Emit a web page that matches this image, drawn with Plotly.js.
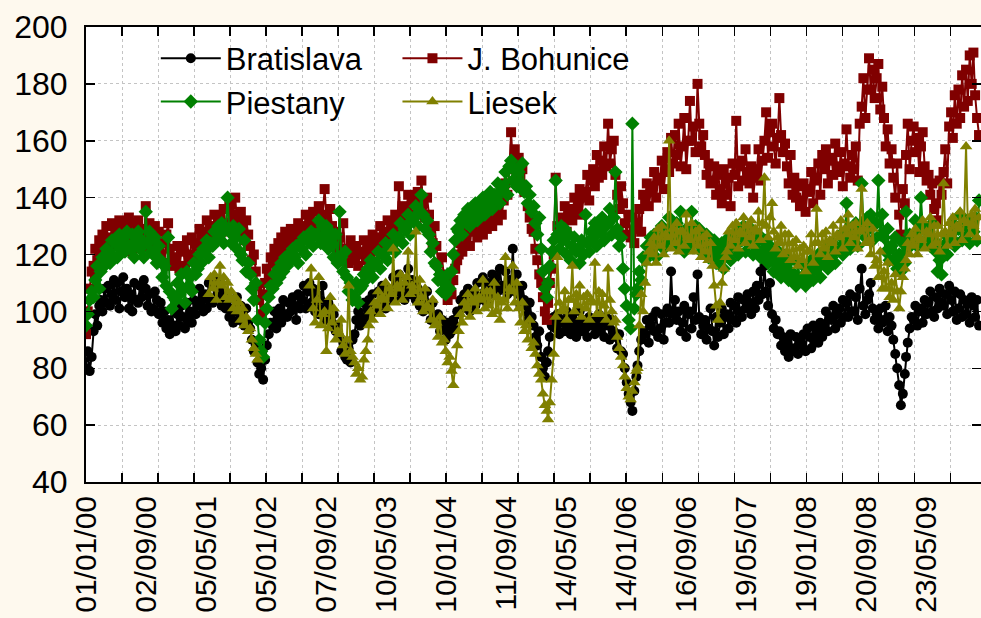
<!DOCTYPE html>
<html>
<head>
<meta charset="utf-8">
<script src="https://cdn.plot.ly/plotly-3.0.1.min.js"></script>
<style>html,body{margin:0;padding:0;background:#fef9ee;}#chart{width:981px;height:618px;}</style>
</head>
<body>
<div id="chart"></div>
<script>
// Sampling dates: 1st, 8th, 16th and 24th of each month, Jan 2000 - Dec 2009
const sampleDays = [1, 8, 16, 24];
const firstYear = 2000, lastYear = 2009;

const tickDates = ['2000-01-01','2000-09-02','2001-05-05','2002-01-05','2002-09-07','2003-05-10','2004-01-10','2004-09-11','2005-05-14','2006-01-14','2006-09-16','2007-05-19','2008-01-19','2008-09-20','2009-05-23'];
const tickLabels = ['01/01/00','02/09/00','05/05/01','05/01/02','07/09/02','10/05/03','10/01/04','11/09/04','14/05/05','14/01/06','16/09/06','19/05/07','19/01/08','20/09/08','23/05/09'];

const seriesNames = ['Bratislava', 'J. Bohunice', 'Piestany', 'Liesek'];

const bratislava = [
// 2000
80,86,79,84, 93,99,95,102, 104,100,108,103, 109,102,106,111, 104,110,101,107, 112,105,108,101, 106,100,110,104, 103,109,105,111, 108,102,106,100, 101,107,104,99, 103,96,100,94, 97,92,101,95,
// 2001
93,99,95,102, 98,94,103,96, 100,96,104,99, 102,108,104,100, 106,101,110,104, 103,109,105,111, 107,102,105,101, 104,98,101,96, 100,105,97,102, 99,95,101,96, 94,90,86,88, 82,78,80,76,
// 2002
83,88,92,96, 95,100,94,98, 101,96,104,99, 98,103,100,105, 102,97,106,101, 104,109,101,107, 110,103,108,100, 106,99,104,109, 101,97,103,98, 96,99,93,95, 91,86,89,84, 83,87,82,90,
// 2003
92,97,100,95, 98,103,97,101, 104,99,106,102, 100,107,103,109, 105,101,108,104, 107,112,105,110, 113,106,109,104, 108,115,106,111, 110,104,108,102, 105,100,103,107, 101,97,103,98, 96,99,93,97,
// 2004
94,90,96,92, 93,97,95,100, 99,104,101,106, 103,108,100,105, 107,102,110,104, 105,112,107,103, 110,106,113,108, 112,107,115,109, 108,114,106,111, 110,122,107,113, 106,102,109,104, 100,97,103,98,
// 2005
95,91,88,93, 84,80,77,82, 86,91,95,98, 94,99,92,96, 97,93,100,95, 92,98,94,91, 96,100,93,97, 94,91,98,95, 97,92,95,99, 93,96,91,98, 95,90,97,93, 91,87,92,86,
// 2006
85,80,75,71, 68,65,72,77, 81,86,90,93, 92,97,89,95, 98,93,100,91, 94,99,90,96, 101,96,114,99, 104,97,100,93, 96,102,91,99, 100,94,105,97, 113,98,92,95, 97,90,94,101,
// 2007
93,88,98,91, 96,101,92,98, 99,94,103,97, 102,96,105,100, 98,104,101,106, 103,99,107,101, 109,104,114,106, 116,107,102,110, 99,94,97,92, 93,88,91,86, 89,84,92,86, 87,91,85,89,
// 2008
88,92,86,94, 91,87,95,89, 93,89,96,91, 95,100,93,98, 97,102,94,99, 101,96,104,98, 103,98,106,100, 100,105,97,108, 115,102,99,104, 106,110,101,97, 99,94,101,96, 97,102,93,98,
// 2009
95,90,85,80, 74,67,71,78, 84,89,94,98, 97,102,95,100, 101,96,104,99, 103,107,100,98, 105,101,108,103, 102,106,99,109, 104,100,107,97, 101,106,98,104, 99,103,96,105, 102,98,104,95
];

const bohunice = [
// 2000
92,100,108,114, 116,122,118,125, 121,127,124,130, 126,122,131,125, 129,124,132,127, 123,130,126,133, 128,121,131,125, 132,126,129,123, 137,127,131,124, 125,130,122,128, 120,124,117,127, 131,122,116,119,
// 2001
118,123,115,121, 122,116,125,119, 120,126,118,124, 123,129,126,121, 128,132,125,130, 126,134,129,131, 133,128,136,130, 131,137,129,134, 140,132,127,135, 129,125,132,127, 123,118,120,114, 109,104,99,106,
// 2002
110,115,112,119, 117,122,119,124, 121,126,123,128, 125,122,129,126, 128,124,131,127, 130,126,134,129, 132,128,135,130, 131,137,128,134, 143,133,129,136, 130,125,128,122, 126,121,131,119, 122,117,125,120,
// 2003
118,123,116,121, 120,125,118,123, 124,120,127,122, 126,122,130,125, 128,124,132,127, 131,127,134,129, 144,131,137,133, 136,141,132,138, 139,134,142,136, 146,138,133,140, 134,128,124,130, 123,117,113,119,
// 2004
112,108,104,110, 106,111,115,118, 120,124,121,127, 125,129,123,131, 128,133,126,130, 131,127,135,129, 133,137,130,135, 136,132,140,134, 139,145,141,150, 163,152,157,149, 154,147,150,142, 143,137,133,129,
// 2005
128,122,118,113, 110,105,100,97, 103,110,115,120, 147,130,126,133, 131,137,128,134, 136,132,140,135, 138,143,134,140, 142,148,139,146, 150,144,155,147, 153,148,158,151, 166,152,157,160, 148,141,136,144,
// 2006
138,131,127,134, 126,133,124,129, 131,136,128,141, 139,145,137,142, 144,149,140,146, 147,153,143,150, 156,149,161,152, 162,155,166,151, 158,168,150,160, 174,160,165,156, 180,166,158,162, 155,148,152,145,
// 2007
146,151,141,148, 143,138,150,145, 141,147,137,152, 148,167,144,151, 153,146,157,149, 145,151,140,147, 150,157,146,153, 160,170,154,163, 166,158,152,161, 175,162,156,159, 151,145,155,141, 147,140,144,137,
// 2008
139,145,135,142, 143,149,138,146, 147,152,141,155, 150,157,145,153, 154,148,159,151, 149,156,144,152, 164,151,147,155, 150,158,146,166, 172,182,168,178, 189,178,185,175, 182,187,171,179, 168,158,164,152,
// 2009
157,147,140,152, 134,127,143,138, 155,166,150,160, 165,156,161,149, 158,163,151,146, 148,141,145,136, 138,132,146,141, 149,157,145,165, 170,161,176,166, 178,168,183,172, 185,174,190,180, 191,176,168,162
];

const piestany = [
// 2000
95,99,104,107, 105,111,116,108, 114,119,116,122, 121,117,125,119, 124,119,127,122, 126,121,128,123, 122,127,119,125, 128,122,125,119, 135,124,128,121, 120,126,117,123, 118,112,116,109, 126,107,101,105,
// 2001
104,110,106,113, 108,103,114,109, 112,107,117,113, 115,120,117,122, 121,125,119,124, 123,128,125,130, 127,131,124,129, 140,128,124,130, 126,122,129,120, 118,125,114,117, 113,108,104,110, 97,90,86,84,
// 2002
96,101,105,109, 108,113,110,115, 112,117,114,119, 116,120,118,122, 119,123,117,124, 122,126,120,125, 125,128,123,127, 127,132,124,130, 126,130,122,128, 124,119,127,117, 135,119,114,121, 112,107,110,104,
// 2003
105,110,103,108, 109,113,111,115, 114,118,112,117, 117,121,115,120, 120,124,118,123, 123,127,121,125, 126,131,124,129, 130,134,127,132, 133,137,130,135, 141,134,129,132, 127,121,124,117, 116,111,113,107,
// 2004
110,106,113,108, 114,120,125,129, 128,132,127,134, 131,136,130,134, 134,138,132,137, 136,140,134,139, 138,142,136,141, 140,145,138,143, 144,149,141,151, 153,146,150,144, 149,145,152,142, 144,138,141,135,
// 2005
137,131,127,133, 122,114,108,105, 110,116,121,125, 146,127,122,130, 125,129,120,127, 118,123,126,121, 122,117,125,120, 134,124,121,128, 126,131,123,129, 128,133,125,130, 131,136,127,133, 149,129,123,126,
// 2006
115,108,102,97, 94,166,101,106, 108,114,111,119, 118,123,120,126, 122,127,119,125, 125,130,122,128, 127,133,124,130, 126,131,123,135, 125,121,129,123, 127,135,124,130, 124,129,121,126, 122,127,119,124,
// 2007
120,125,117,122, 119,124,115,121, 121,126,118,123, 123,128,120,126, 125,130,121,127, 124,129,120,126, 122,127,119,125, 121,125,117,123, 119,114,122,116, 117,112,120,114, 115,111,118,113, 113,109,117,111,
// 2008
112,116,109,114, 113,118,111,116, 115,120,112,118, 117,122,115,120, 119,124,117,122, 122,127,120,125, 138,125,122,128, 126,131,123,129, 145,131,126,133, 129,134,125,131, 131,146,127,134, 126,121,129,118,
// 2009
123,118,126,115, 120,114,124,117, 135,122,127,124, 126,132,123,129, 140,130,125,128, 128,123,131,125, 121,114,118,113, 123,127,120,125, 126,131,123,129, 129,134,125,131, 127,132,124,130, 128,133,125,139
];

const liesek = [
// 2000 (no data)
null,null,null,null, null,null,null,null, null,null,null,null, null,null,null,null, null,null,null,null, null,null,null,null, null,null,null,null, null,null,null,null, null,null,null,null, null,null,null,null, null,null,null,null, null,null,null,null,
// 2001
null,null,null,null, null,null,null,null, null,null,null,null, null,null,null,null, null,null,106,112, 108,113,104,110, 116,109,112,105, 110,104,107,101, 105,100,103,97, 101,95,98,93, 94,90,87,85, 83,null,null,null,
// 2002
null,null,null,null, null,null,null,null, null,null,null,null, null,null,null,null, null,null,null,null, null,null,null,null, 109,115,101,96, 104,112,95,99, 100,86,94,105, 96,101,90,93, 92,97,88,85, 90,109,86,84,
// 2003
82,78,80,76, 77,83,86,90, 95,100,97,103, 102,107,99,105, 104,110,101,108, 106,122,103,109, 108,113,104,110, 112,121,106,109, 107,128,103,111, 105,100,108,102, 101,97,104,95, 96,91,98,89,
// 2004
90,86,82,84, 79,74,81,88, 93,99,96,103, 101,106,98,104, 103,108,100,105, 104,111,101,107, 102,107,99,110, 100,105,97,103, 104,119,101,108, 107,116,103,110, 101,96,103,93, 95,90,97,87,
// 2005
89,85,81,78, 76,71,67,65, 62,68,76,85, 98,119,103,100, 101,107,97,104, 104,116,100,106, 102,109,98,105, 101,106,97,104, 103,117,99,107, 99,106,102,97, 115,104,100,96, 97,91,87,84,
// 2006
81,77,73,70, 69,72,75,79, 80,95,106,100, 110,117,121,124, 120,126,117,129, 123,130,120,127, 126,160,122,129, 124,131,121,128, 128,123,134,126, 125,131,121,128, 123,129,119,126, 121,127,118,124,
// 2007
116,109,102,97, 103,110,115,119, 121,128,123,130, 125,131,122,128, 127,133,124,130, 126,132,123,129, 128,135,125,131, 147,130,126,133, 138,128,122,126, 124,130,120,127, 121,127,118,124, 119,125,116,122,
// 2008
118,123,114,121, 121,127,117,124, 136,124,120,127, 122,128,119,125, 124,130,121,127, 126,132,122,129, 127,134,124,130, 126,131,122,128, 143,129,124,131, 125,120,129,116, 118,112,121,108, 114,108,117,105,
// 2009
110,104,113,107, 101,107,112,115, 118,124,120,127, 123,129,120,126, 125,132,122,128, 127,133,123,130, 124,130,121,127, 145,128,123,131, 127,133,124,130, 129,135,125,132, 158,131,127,134, 130,136,126,133
];

// build sample dates
const dates = [];
for (let y = firstYear; y <= lastYear; y++) {
  for (let m = 1; m <= 12; m++) {
    for (const d of sampleDays) {
      dates.push(y + '-' + String(m).padStart(2, '0') + '-' + String(d).padStart(2, '0'));
    }
  }
}

const FONT = 'Liberation Sans, Arial, Helvetica, sans-serif';
const colors = ['#000000', '#800000', '#008000', '#808000'];
const symbols = ['circle', 'square', 'diamond', 'triangle-up'];
const sizes = [10, 10, 11, 11];
const values = [bratislava, bohunice, piestany, liesek];
const legendOf = ['legend', 'legend2', 'legend', 'legend2'];

const traces = [{
  x: [], y: [], xaxis: 'x2', yaxis: 'y', mode: 'markers', showlegend: false, hoverinfo: 'skip'
}];
for (let i = 0; i < 4; i++) {
  traces.push({
    x: dates, y: values[i], name: seriesNames[i], type: 'scatter', mode: 'lines+markers',
    line: {color: colors[i], width: 2},
    marker: {color: colors[i], symbol: symbols[i], size: sizes[i]},
    legend: legendOf[i], connectgaps: false
  });
}

const xRange = ['2000-01-01', '2010-01-01'];
const layout = {
  width: 981, height: 618,
  margin: {l: 86, r: 0, t: 27, b: 136},
  paper_bgcolor: '#fef9ee', plot_bgcolor: '#ffffff',
  font: {family: FONT, size: 31, color: '#000'},
  xaxis: {
    type: 'date', range: xRange,
    tickmode: 'array', tickvals: tickDates, ticktext: tickLabels,
    tickangle: -90, ticks: '', showgrid: false, zeroline: false,
    showline: true, linecolor: '#000', linewidth: 2, mirror: true,
    tickfont: {family: FONT, size: 30, color: '#000'},
    ticklabelstandoff: 0
  },
  xaxis2: {
    type: 'date', range: xRange, overlaying: 'x', anchor: 'y', side: 'bottom',
    tickmode: 'linear', tick0: '2000-01-01', dtick: 147 * 86400000,
    ticks: 'inside', ticklen: 9, tickwidth: 1.5, tickcolor: '#000',
    showticklabels: false, showline: false, mirror: 'ticks', zeroline: false,
    showgrid: true, gridcolor: '#c4c4c4', gridwidth: 1, griddash: '3px,3px'
  },
  yaxis: {
    range: [40, 200], tickmode: 'linear', tick0: 40, dtick: 20,
    ticks: 'inside', ticklen: 9, tickwidth: 1.5, tickcolor: '#000',
    showline: true, linecolor: '#000', linewidth: 2, mirror: 'ticks', zeroline: false,
    showgrid: true, gridcolor: '#c4c4c4', gridwidth: 1, griddash: '3px,3px',
    tickfont: {family: FONT, size: 32, color: '#000'},
    ticklabelstandoff: 10
  },
  legend: {
    x: 0.078, y: 0.99, xanchor: 'left', yanchor: 'top', orientation: 'v',
    bgcolor: 'rgba(0,0,0,0)', borderwidth: 0, font: {family: FONT, size: 31, color: '#000'},
    itemwidth: 60, tracegroupgap: 0
  },
  legend2: {
    x: 0.348, y: 0.99, xanchor: 'left', yanchor: 'top', orientation: 'v',
    bgcolor: 'rgba(0,0,0,0)', borderwidth: 0, font: {family: FONT, size: 31, color: '#000'},
    itemwidth: 60, tracegroupgap: 0
  },
  showlegend: true
};

Plotly.newPlot('chart', traces, layout, {displayModeBar: false, staticPlot: true});
</script>
</body>
</html>
